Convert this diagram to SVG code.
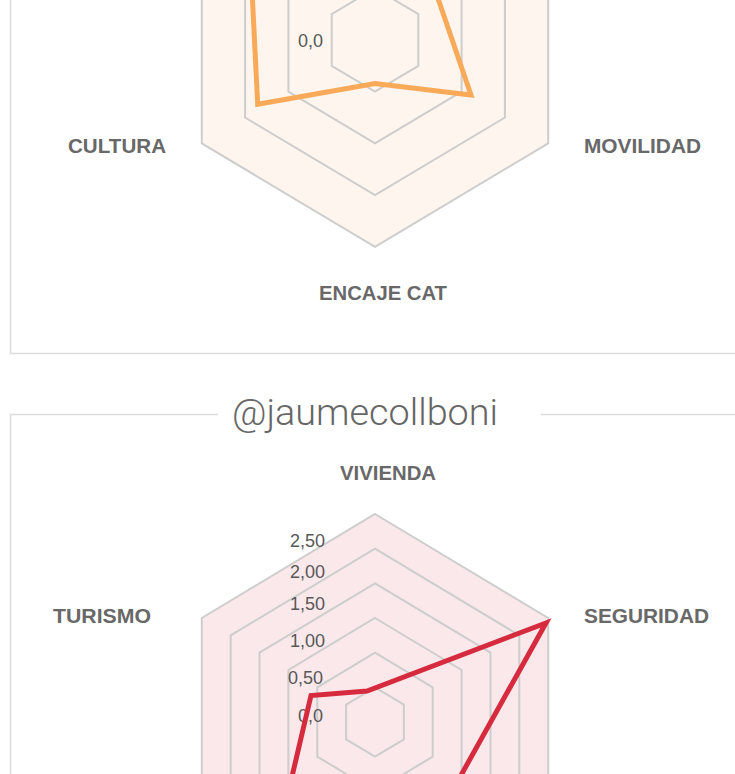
<svg xmlns="http://www.w3.org/2000/svg" width="735" height="774" viewBox="0 0 735 774">
<defs>
<style>
.bg{fill:#ffffff}
.frame{fill:none;stroke:#dcdcdc;stroke-width:1.5}
.grid{fill:none;stroke:#cdcdcd;stroke-width:2;vector-effect:non-scaling-stroke}
.area-o{fill:rgba(247,168,84,0.1);stroke:#cdcdcd;stroke-width:2;vector-effect:non-scaling-stroke}
.area-r{fill:rgba(214,44,62,0.11);stroke:#cdcdcd;stroke-width:2;vector-effect:non-scaling-stroke}
.data-o{fill:none;stroke:#f8aa58;stroke-width:5;stroke-linejoin:miter}
.data-r{fill:none;stroke:#d62b3e;stroke-width:5;stroke-linejoin:miter}
.cat{font-family:"Liberation Sans",Arial,sans-serif;font-size:20.5px;font-weight:bold;fill:#686868;text-anchor:middle}
.tick{font-family:"Liberation Sans",Arial,sans-serif;font-size:18px;fill:#585858;text-anchor:end}
.title{font-family:Roboto,"Liberation Sans",Arial,sans-serif;font-size:37px;font-weight:300;fill:#666666;text-anchor:middle}
</style>
</defs>
<rect class="bg" x="0" y="0" width="735" height="774"/>

<g id="panel-top">
  <polyline class="frame" points="10.5,0 10.5,353.5 735,353.5"/>
  <g id="grid-top" transform="translate(375,40) scale(1,1.034)">
    <polygon class="area-o" points="0,-200 173.2,-100 173.2,100 0,200 -173.2,100 -173.2,-100"/>
    <polygon class="grid" points="0,-150 129.9,-75 129.9,75 0,150 -129.9,75 -129.9,-75"/>
    <polygon class="grid" points="0,-100 86.6,-50 86.6,50 0,100 -86.6,50 -86.6,-50"/>
    <polygon class="grid" points="0,-50 43.3,-25 43.3,25 0,50 -43.3,25 -43.3,-25"/>
  </g>
  <text class="tick" x="323" y="46.5">0,0</text>
  <polyline id="data-top" class="data-o" points="251.5,-20 257.7,104.3 375,83.5 471,95 431.7,-20"/>
  <text id="lbl-cultura" class="cat" x="117" y="153" textLength="98" lengthAdjust="spacingAndGlyphs">CULTURA</text>
  <text id="lbl-movilidad" class="cat" x="642.5" y="153" textLength="117" lengthAdjust="spacingAndGlyphs">MOVILIDAD</text>
  <text id="lbl-encaje" class="cat" x="383" y="299.5" textLength="128" lengthAdjust="spacingAndGlyphs">ENCAJE CAT</text>
</g>

<g id="panel-bottom">
  <polyline class="frame" points="218,414.5 10.5,414.5 10.5,774"/>
  <line class="frame" x1="541" y1="414.5" x2="735" y2="414.5"/>
  <text id="title" class="title" x="365" y="425" textLength="266" lengthAdjust="spacingAndGlyphs">@jaumecollboni</text>
  <g id="grid-bottom" transform="translate(375,722) scale(1,1.04)">
    <polygon class="area-r" points="0,-200 173.2,-100 173.2,100 0,200 -173.2,100 -173.2,-100"/>
    <polygon class="grid" points="0,-166.7 144.3,-83.3 144.3,83.3 0,166.7 -144.3,83.3 -144.3,-83.3"/>
    <polygon class="grid" points="0,-133.3 115.5,-66.7 115.5,66.7 0,133.3 -115.5,66.7 -115.5,-66.7"/>
    <polygon class="grid" points="0,-100 86.6,-50 86.6,50 0,100 -86.6,50 -86.6,-50"/>
    <polygon class="grid" points="0,-66.7 57.7,-33.3 57.7,33.3 0,66.7 -57.7,33.3 -57.7,-33.3"/>
    <polygon class="grid" points="0,-33.3 28.9,-16.7 28.9,16.7 0,33.3 -28.9,16.7 -28.9,-16.7"/>
  </g>
  <g id="ticks-bottom">
    <text class="tick" x="325" y="546.7">2,50</text>
    <text class="tick" x="325" y="578">2,00</text>
    <text class="tick" x="325" y="610">1,50</text>
    <text class="tick" x="325" y="646.7">1,00</text>
    <text class="tick" x="323" y="684">0,50</text>
    <text class="tick" x="323" y="721.5">0,0</text>
  </g>
  <polyline id="data-bottom" class="data-r" points="286.5,800 311,695.5 367,691 546,623 447.2,800"/>
  <text id="lbl-vivienda" class="cat" x="388" y="480" textLength="96" lengthAdjust="spacingAndGlyphs">VIVIENDA</text>
  <text id="lbl-turismo" class="cat" x="102" y="623" textLength="98" lengthAdjust="spacingAndGlyphs">TURISMO</text>
  <text id="lbl-seguridad" class="cat" x="646.5" y="623" textLength="125" lengthAdjust="spacingAndGlyphs">SEGURIDAD</text>
</g>
</svg>
